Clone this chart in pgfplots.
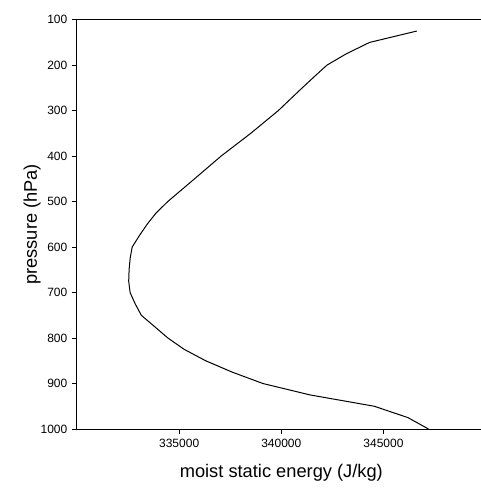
\documentclass[border=0pt]{standalone}
\usepackage{fontspec}
\setmainfont{Liberation Sans}
\usepackage{pgfplots}
\pgfplotsset{compat=1.18}
\begin{document}
\begin{tikzpicture}
\begin{axis}[
  at={(0,0)}, anchor=south west,
  scale only axis, width=306.5pt, height=307pt,
  xmin=330000, xmax=350000, ymin=100, ymax=1000, y dir=reverse,
  xtick={335000,340000,345000}, ytick={100,200,...,1000},
  scaled x ticks=false, scaled y ticks=false,
  /pgf/number format/assume math mode=true,
  xticklabel style={/pgf/number format/fixed,/pgf/number format/1000 sep={}, font=\fontsize{9}{10}\selectfont},
  yticklabel style={/pgf/number format/fixed,/pgf/number format/1000 sep={}, font=\fontsize{9}{10}\selectfont},
  tick align=outside, tickpos=left, major tick length=3.75pt,
  axis line style={line width=0.75pt},
  every tick/.style={black, line width=0.75pt},
  xlabel={moist static energy (J/kg)}, ylabel={pressure (hPa)},
  xlabel style={at={(axis description cs:0.5,-0.1075)}, anchor=center, font=\fontsize{13.7}{16}\selectfont},
  ylabel style={at={(axis description cs:-0.110,0.5)}, anchor=center, font=\fontsize{13.7}{16}\selectfont},
]
\addplot[black, line width=0.75pt] table {
x y
347200 1000
346200 975
344550 950
341400 925
339100 900
337600 875
336300 850
335250 825
334450 800
333800 775
333150 750
332850 725
332600 700
332530 675
332550 650
332600 625
332700 600
333050 575
333430 550
333870 525
334440 500
335750 450
337050 400
338500 350
339850 300
341020 250
341620 225
342230 200
343180 175
344320 150
346630 125
};
\end{axis}
\pgfresetboundingbox
\path[use as bounding box] (-57.75pt,-45.75pt) rectangle (303pt,321.75pt);
\end{tikzpicture}
\end{document}
